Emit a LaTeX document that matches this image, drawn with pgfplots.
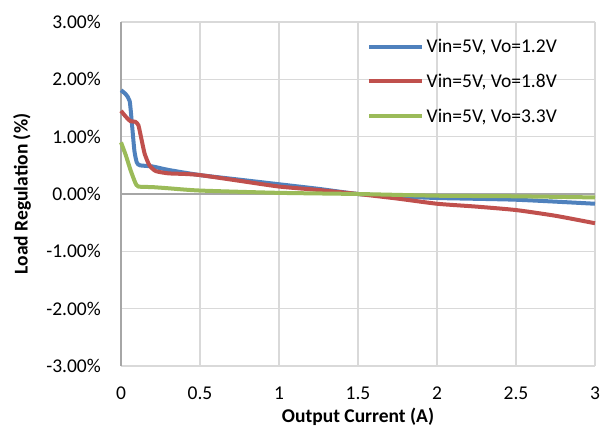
\documentclass[border=0pt]{standalone}
\usepackage{fontspec}
\setmainfont{Carlito}
\usepackage{pgfplots}
\pgfplotsset{compat=1.18}
\definecolor{cblue}{HTML}{4F81BD}
\definecolor{cred}{HTML}{C0504D}
\definecolor{cgreen}{HTML}{9BBB59}
\definecolor{cgrid}{HTML}{D9D9D9}
\definecolor{caxis}{HTML}{A6A6A6}
\newcommand{\fs}{\fontsize{19.5bp}{23bp}\selectfont}
\begin{document}
\begin{tikzpicture}[font=\fs]
\useasboundingbox (0,0) rectangle (601bp,428bp);
\begin{axis}[
  at={(121bp,62bp)}, anchor=south west,
  scale only axis, width=474bp, height=344bp,
  xmin=0, xmax=3, ymin=-3, ymax=3,
  xtick={0,0.5,1,1.5,2,2.5,3},
  xticklabels={0,0.5,1,1.5,2,2.5,3},
  ytick={-3,-2,-1,0,1,2,3},
  yticklabels={-3.00\%,-2.00\%,-1.00\%,0.00\%,1.00\%,2.00\%,3.00\%},
  /pgf/number format/assume math mode=true,
  major tick length=0pt,
  axis line style={draw=none},
  grid=major,
  major grid style={cgrid, line width=1.3bp},
  xticklabel style={font=\fs, inner sep=0pt, anchor=north, yshift=-21bp},
  yticklabel style={font=\fs, inner sep=0pt, anchor=east, xshift=-20bp},
  xlabel={\bfseries Output Current (A)},
  ylabel={\bfseries Load Regulation (\%)},
  xlabel style={font=\fs, inner sep=0pt, at={([yshift=-56bp]axis description cs:0.5,0)}, anchor=base},
  ylabel style={font=\fs, at={([xshift=-99bp]axis description cs:0,0.5)}, anchor=center},
  legend cell align=left,
  legend style={draw=none, fill=none, font=\fs, at={(rel axis cs:0.519,0.951)}, anchor=north west,
     inner sep=0pt, row sep=20bp, nodes={inner xsep=2.5bp, inner ysep=0pt}},
  legend image code/.code={\draw[#1] (0bp,0bp) -- (53bp,0bp);},
  every axis plot/.append style={line width=4bp, smooth, tension=0.35},
  clip=false,
]
\draw[caxis, line width=1.5bp] (axis cs:0,0) -- (axis cs:3,0);
\draw[caxis, line width=1.5bp] (axis cs:0,-3) -- (axis cs:0,3);
\addplot[cblue] coordinates {
 (0,1.81) (0.03,1.74) (0.055,1.62) (0.07,1.2) (0.085,0.75) (0.1,0.55) (0.12,0.50)
 (0.2,0.48) (0.3,0.42) (0.5,0.33) (0.75,0.25) (1.0,0.17) (1.25,0.09) (1.5,0.0)
 (1.75,-0.04) (2.0,-0.07) (2.5,-0.10) (3.0,-0.17)};
\addlegendentry{Vin=5V, Vo=1.2V}
\addplot[cred] coordinates {
 (0,1.45) (0.03,1.35) (0.06,1.27) (0.09,1.26) (0.11,1.2) (0.13,0.95) (0.15,0.7)
 (0.18,0.5) (0.22,0.40) (0.3,0.36) (0.4,0.35) (0.5,0.33) (0.75,0.23) (1.0,0.13)
 (1.25,0.07) (1.5,0.0) (1.75,-0.08) (2.0,-0.17) (2.25,-0.22) (2.5,-0.28)
 (2.75,-0.38) (3.0,-0.51)};
\addlegendentry{Vin=5V, Vo=1.8V}
\addplot[cgreen] coordinates {
 (0,0.90) (0.03,0.68) (0.06,0.42) (0.09,0.2) (0.11,0.13) (0.2,0.12) (0.3,0.10)
 (0.5,0.06) (1.0,0.02) (1.5,0.0) (2.0,-0.03) (2.5,-0.04) (3.0,-0.06)};
\addlegendentry{Vin=5V, Vo=3.3V}
\end{axis}
\end{tikzpicture}
\end{document}
